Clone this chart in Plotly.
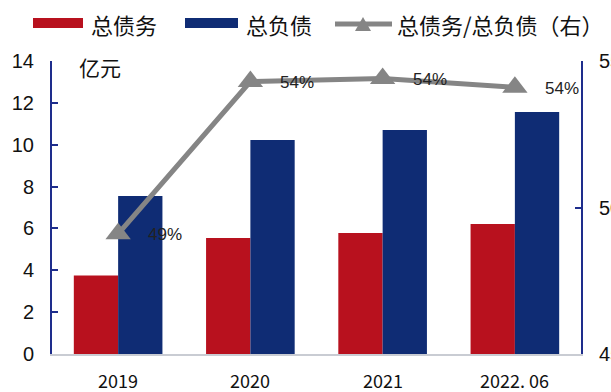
import plotly.graph_objects as go

categories = ["2019", "2020", "2021", "2022. 06"]
total_debt = [3.75, 5.54, 5.78, 6.21]        # 总债务 (亿元)
total_liab = [7.55, 10.22, 10.70, 11.56]     # 总负债 (亿元)
ratio_pct = [49.1, 54.3, 54.4, 54.1]         # 总债务/总负债 (%)
left_ticks = [0, 2, 4, 6, 8, 10, 12, 14]
right_ticks = [45, 50, 55]

RED = "#B8111E"
BLUE = "#0F2C74"
GRAY = "#858585"
AXIS = "#1E2D8C"
CJK = "Noto Sans CJK SC"

W, H = 611, 392
L, R, T, B = 52, 30, 61, 38
PW, PH = W - L - R, H - T - B

def px(x):
    return (x - L) / PW

def py(y):
    return (H - B - y) / PH

fig = go.Figure()
fig.add_trace(go.Bar(x=categories, y=total_debt, name="总债务", marker_color=RED,
                     marker_line_width=0, showlegend=False))
fig.add_trace(go.Bar(x=categories, y=total_liab, name="总负债", marker_color=BLUE,
                     marker_line_width=0, showlegend=False))
fig.add_trace(go.Scatter(x=categories, y=ratio_pct, name="总债务/总负债（右）", yaxis="y2",
                         mode="lines+markers", line=dict(color=GRAY, width=5),
                         marker=dict(symbol="triangle-up", size=22, color=GRAY),
                         showlegend=False))

annotations = []
# category index positions (annotations treat numeric-looking strings as indices)
for i, v in enumerate(ratio_pct):
    annotations.append(dict(x=i, y=v, xref="x", yref="y2", text=f"{v:.0f}%",
                            showarrow=False, xanchor="left", yanchor="middle",
                            xshift=28, yshift=-1,
                            font=dict(family="Liberation Sans", size=17, color="#222")))
for i, c in enumerate(categories):
    annotations.append(dict(x=i, y=py(380), xref="x", yref="paper", text=c,
                            showarrow=False, xanchor="center", yanchor="middle",
                            font=dict(family=CJK, size=18, color="#111")))
annotations.append(dict(x=px(77), y=py(67), xref="paper", yref="paper", text="亿元",
                        showarrow=False, xanchor="left", yanchor="middle",
                        font=dict(family=CJK, size=21, color="#111")))

# manual legend
shapes = []
shapes.append(dict(type="rect", xref="paper", yref="paper", x0=px(33), x1=px(83),
                   y0=py(28), y1=py(18), fillcolor=RED, line_width=0))
shapes.append(dict(type="rect", xref="paper", yref="paper", x0=px(185), x1=px(238),
                   y0=py(28), y1=py(18), fillcolor=BLUE, line_width=0))
shapes.append(dict(type="line", xref="paper", yref="paper", x0=px(335), x1=px(392),
                   y0=py(24), y1=py(24), line=dict(color=GRAY, width=5)))
tri = "M {:.4f} {:.4f} L {:.4f} {:.4f} L {:.4f} {:.4f} Z".format(
    px(355), py(31), px(371), py(31), px(363), py(17))
shapes.append(dict(type="path", xref="paper", yref="paper", path=tri,
                   fillcolor=GRAY, line_width=0))
for text, x0 in [("总债务", 89), ("总负债", 244), ("总债务/总负债（右）", 395)]:
    annotations.append(dict(x=px(x0), y=py(24), xref="paper", yref="paper", text=text,
                            showarrow=False, xanchor="left", yanchor="middle",
                            font=dict(family=CJK, size=22, color="#111")))

fig.update_layout(
    width=W, height=H,
    margin=dict(l=L, r=R, t=T, b=B, autoexpand=False),
    paper_bgcolor="white", plot_bgcolor="white",
    barmode="group", bargap=0.33, bargroupgap=0,
    xaxis=dict(type="category", range=[-0.5, 3.5], showline=True, linecolor="#C9CCD3",
               linewidth=1.5, ticks="", showticklabels=False, showgrid=False),
    yaxis=dict(range=[0, 14], tickvals=left_ticks, showline=True, linecolor=AXIS,
               linewidth=2, ticks="inside", ticklen=6, tickcolor=AXIS, tickwidth=2,
               showgrid=False, zeroline=False, ticklabelstandoff=12,
               tickfont=dict(family="Liberation Sans", size=20, color="#111")),
    yaxis2=dict(range=[45, 55], tickvals=right_ticks, ticksuffix="%", overlaying="y",
                side="right", showline=True, linecolor=AXIS, linewidth=2,
                ticks="inside", ticklen=6, tickcolor=AXIS, tickwidth=2,
                showgrid=False, zeroline=False, ticklabelstandoff=12,
                tickfont=dict(family="Liberation Sans", size=20, color="#111")),
    shapes=shapes, annotations=annotations, showlegend=False,
)

fig.write_html("out.html")
